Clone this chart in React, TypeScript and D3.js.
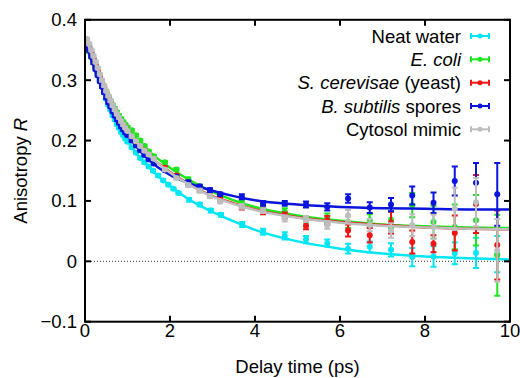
import React from "react";
import * as d3 from "d3";

// ---------- data ----------
const T_CYAN = [0.1,0.15,0.2,0.25,0.3,0.35,0.4,0.45,0.5,0.55,0.6,0.65,0.7,0.75,0.8,0.85,0.9,0.95,1.0,1.1,1.2,1.3,1.4,1.5,1.6,1.72,1.84,1.96,2.08,2.2,2.45,2.7,2.96,3.2,3.7,4.19,4.7,5.2,5.7,6.19,6.7,7.2,7.7,8.2,8.7,9.2,9.7];
const T_STD = [0.05,0.1,0.15,0.2,0.25,0.3,0.35,0.4,0.45,0.5,0.55,0.6,0.65,0.7,0.75,0.8,0.85,0.9,0.95,1.0,1.1,1.2,1.3,1.4,1.5,1.62,1.88,2.15,2.43,2.7,2.94,3.18,3.69,4.19,4.7,5.2,5.7,6.19,6.7,7.2,7.7,8.2,8.7,9.2,9.7];

const waterR = [0.356,0.345,0.334,0.322,0.311,0.300,0.289,0.279,0.269,0.259,0.251,0.242,0.235,0.227,0.221,0.214,0.209,0.203,0.198,0.189,0.180,0.171,0.164,0.157,0.150,0.142,0.134,0.127,0.120,0.113,0.102,0.094,0.084,0.077,0.061,0.049,0.042,0.036,0.030,0.021,0.024,0.019,0.007,0.008,0.013,0.014,0.012];
const waterErr = [0.002,0.002,0.002,0.002,0.002,0.002,0.002,0.002,0.002,0.002,0.002,0.002,0.002,0.002,0.002,0.002,0.002,0.002,0.002,0.002,0.002,0.002,0.002,0.002,0.002,0.002,0.002,0.002,0.002,0.002,0.003,0.003,0.003,0.003,0.004,0.005,0.006,0.006,0.006,0.008,0.009,0.011,0.015,0.017,0.018,0.025,0.030];

const ecoliR = [0.355,0.347,0.338,0.329,0.320,0.311,0.303,0.295,0.287,0.280,0.273,0.266,0.259,0.253,0.247,0.241,0.236,0.231,0.226,0.222,0.217,0.209,0.200,0.191,0.182,0.174,0.164,0.152,0.136,0.124,0.117,0.110,0.097,0.089,0.082,0.065,0.071,0.065,0.068,0.069,0.093,0.065,0.057,0.068,0.010];
const ecoliErr = [0.002,0.002,0.002,0.002,0.002,0.002,0.002,0.002,0.002,0.002,0.002,0.002,0.002,0.002,0.002,0.002,0.002,0.002,0.002,0.002,0.002,0.002,0.002,0.002,0.002,0.002,0.002,0.002,0.003,0.003,0.003,0.003,0.004,0.005,0.006,0.007,0.008,0.010,0.010,0.014,0.020,0.027,0.037,0.042,0.067];

const yeastR = [0.358,0.352,0.343,0.334,0.324,0.314,0.305,0.296,0.287,0.278,0.270,0.262,0.255,0.248,0.242,0.236,0.230,0.225,0.220,0.215,0.206,0.198,0.190,0.183,0.176,0.169,0.155,0.142,0.130,0.118,0.109,0.102,0.090,0.083,0.076,0.059,0.068,0.051,0.043,0.064,0.032,0.029,0.047,0.095,0.027];
const yeastErr = [0.002,0.002,0.002,0.002,0.002,0.002,0.002,0.002,0.002,0.002,0.002,0.002,0.002,0.002,0.002,0.002,0.002,0.002,0.002,0.002,0.002,0.002,0.002,0.002,0.002,0.002,0.002,0.002,0.003,0.003,0.003,0.003,0.004,0.005,0.005,0.006,0.007,0.010,0.012,0.018,0.019,0.014,0.029,0.048,0.057];

const sporesR = [0.356,0.349,0.339,0.329,0.318,0.308,0.298,0.289,0.280,0.271,0.263,0.256,0.248,0.241,0.235,0.229,0.223,0.218,0.213,0.209,0.200,0.192,0.184,0.176,0.169,0.162,0.151,0.140,0.131,0.124,0.118,0.111,0.107,0.096,0.096,0.094,0.090,0.104,0.089,0.094,0.109,0.097,0.133,0.130,0.111];
const sporesErr = [0.002,0.002,0.002,0.002,0.002,0.002,0.002,0.002,0.002,0.002,0.002,0.002,0.002,0.002,0.002,0.002,0.002,0.002,0.002,0.002,0.002,0.002,0.002,0.002,0.002,0.002,0.002,0.002,0.003,0.003,0.003,0.003,0.004,0.004,0.004,0.005,0.006,0.007,0.009,0.011,0.015,0.017,0.024,0.033,0.052];

const mimicR = [0.368,0.360,0.350,0.340,0.330,0.320,0.310,0.300,0.291,0.282,0.274,0.266,0.258,0.251,0.244,0.238,0.232,0.226,0.221,0.216,0.207,0.199,0.191,0.183,0.177,0.170,0.152,0.138,0.126,0.117,0.108,0.099,0.091,0.084,0.071,0.070,0.060,0.076,0.060,0.051,0.060,0.057,0.087,0.098,0.018];
const mimicErr = [0.002,0.002,0.002,0.002,0.002,0.002,0.002,0.002,0.002,0.002,0.002,0.002,0.002,0.002,0.002,0.002,0.002,0.002,0.002,0.002,0.002,0.002,0.002,0.002,0.002,0.002,0.002,0.002,0.003,0.003,0.003,0.003,0.004,0.004,0.005,0.005,0.006,0.009,0.010,0.012,0.018,0.020,0.035,0.040,0.052];

// fit curves
const FIT_T = [0.05,0.25,0.5,0.75,1,1.5,2,2.5,3,3.5,4,5,6,7,8,9,10];
const waterFit = [0.358,0.318,0.270,0.229,0.199,0.156,0.125,0.100,0.082,0.066,0.052,0.033,0.021,0.013,0.008,0.005,0.003];
const ecoliFit = [0.356,0.318,0.281,0.249,0.223,0.183,0.155,0.133,0.115,0.101,0.090,0.076,0.067,0.061,0.058,0.056,0.055];
const yeastFit = [0.360,0.322,0.280,0.243,0.216,0.176,0.148,0.126,0.108,0.096,0.086,0.073,0.065,0.060,0.056,0.054,0.053];
const sporesFit = [0.357,0.314,0.272,0.238,0.210,0.168,0.143,0.128,0.117,0.108,0.101,0.094,0.090,0.088,0.087,0.086,0.086];
const mimicFit = [0.364,0.326,0.283,0.245,0.217,0.176,0.147,0.125,0.107,0.095,0.085,0.072,0.064,0.059,0.056,0.054,0.053];

const X_TICKS = [0, 2, 4, 6, 8, 10];
const Y_TICKS = [-0.1, 0, 0.1, 0.2, 0.3, 0.4];
const Y_TICK_LABELS = ["\u22120.1", "0", "0.1", "0.2", "0.3", "0.4"];

const SERIES = [
  { key: "water", t: T_CYAN, r: waterR, e: waterErr, fit: waterFit, color: "#00e6f5" },
  { key: "ecoli", t: T_STD, r: ecoliR, e: ecoliErr, fit: ecoliFit, color: "#1ee61e" },
  { key: "yeast", t: T_STD, r: yeastR, e: yeastErr, fit: yeastFit, color: "#f01414" },
  { key: "spores", t: T_STD, r: sporesR, e: sporesErr, fit: sporesFit, color: "#0a14dc" },
  { key: "mimic", t: T_STD, r: mimicR, e: mimicErr, fit: mimicFit, color: "#bebebe" },
];

const W = 520, H = 378;
const M = { left: 85, right: 510, top: 19.8, bottom: 321.7 };
const FONT = "'Liberation Sans', Arial, Helvetica, sans-serif";
const FS = 18.5;

export default function App() {
  const x = d3.scaleLinear().domain([0, 10]).range([M.left, M.right]);
  const y = d3.scaleLinear().domain([-0.1, 0.4]).range([M.bottom, M.top]);
  const line = d3.line<[number, number]>().x(d => x(d[0])).y(d => y(d[1])).curve(d3.curveMonotoneX);
  const cap = 3;

  const legendRows = [
    [{ t: "Neat water", i: false }],
    [{ t: "E. coli", i: true }],
    [{ t: "S. cerevisae", i: true }, { t: " (yeast)", i: false }],
    [{ t: "B. subtilis", i: true }, { t: " spores", i: false }],
    [{ t: "Cytosol mimic", i: false }],
  ];
  const legendY = [36, 59.3, 82.7, 106, 129.3];

  return (
    <svg width={W} height={H} style={{ position: "absolute", left: 0, top: 0, background: "#fff" }} fontFamily={FONT}>
      <defs>
        <clipPath id="plotclip">
          <rect x={M.left} y={M.top} width={M.right - M.left} height={M.bottom - M.top} />
        </clipPath>
      </defs>
      {/* zero line */}
      <line x1={M.left} x2={M.right} y1={y(0)} y2={y(0)} stroke="#000" strokeWidth={0.8} strokeDasharray="1,2" />
      <g clipPath="url(#plotclip)">
        {SERIES.map(s => (
          <g key={s.key}>
            {s.t.map((tv, i) => {
              const cx = x(tv);
              const y1 = y(s.r[i] + s.e[i]);
              const y2 = y(s.r[i] - s.e[i]);
              return (
                <g key={i} stroke={s.color} strokeWidth={2}>
                  <line x1={cx} x2={cx} y1={y1} y2={y2} />
                  <line x1={cx - cap} x2={cx + cap} y1={y1} y2={y1} />
                  <line x1={cx - cap} x2={cx + cap} y1={y2} y2={y2} />
                </g>
              );
            })}
            <path d={line(FIT_T.map((tv, i) => [tv, s.fit[i]] as [number, number])) || ""} fill="none" stroke={s.color} strokeWidth={2.5} />
            {s.t.map((tv, i) => (
              <circle key={i} cx={x(tv)} cy={y(s.r[i])} r={3} fill={s.color} />
            ))}
          </g>
        ))}
      </g>
      {/* frame */}
      <rect x={M.left} y={M.top} width={M.right - M.left} height={M.bottom - M.top} fill="none" stroke="#000" strokeWidth={2} />
      {X_TICKS.map(t => (
        <g key={t}>
          <line x1={x(t)} x2={x(t)} y1={M.bottom} y2={M.bottom - 6} stroke="#000" strokeWidth={2} />
          <line x1={x(t)} x2={x(t)} y1={M.top} y2={M.top + 6} stroke="#000" strokeWidth={2} />
          <text x={x(t)} y={337} textAnchor="middle" fontSize={FS} fill="#000">{t}</text>
        </g>
      ))}
      {Y_TICKS.map((t, i) => (
        <g key={t}>
          <line x1={M.left} x2={M.left + 6} y1={y(t)} y2={y(t)} stroke="#000" strokeWidth={2} />
          <line x1={M.right} x2={M.right - 6} y1={y(t)} y2={y(t)} stroke="#000" strokeWidth={2} />
          <text x={77} y={y(t) + 6.5} textAnchor="end" fontSize={FS} fill="#000">{Y_TICK_LABELS[i]}</text>
        </g>
      ))}
      <text x={297.5} y={373} textAnchor="middle" fontSize={FS} fill="#000">Delay time (ps)</text>
      <text transform={`translate(26.5,${(M.top + M.bottom) / 2}) rotate(-90)`} textAnchor="middle" fontSize={FS} fill="#000">
        Anisotropy <tspan fontStyle="italic">R</tspan>
      </text>
      {/* legend */}
      {legendRows.map((row, k) => {
        const ly = legendY[k];
        const c = SERIES[k].color;
        return (
          <g key={k}>
            <text x={461} y={ly + 6.5} textAnchor="end" fontSize={FS} fill="#000">
              {row.map((p, j) => (
                <tspan key={j} fontStyle={p.i ? "italic" : "normal"}>{p.t}</tspan>
              ))}
            </text>
            <g stroke={c} strokeWidth={2}>
              <line x1={471} x2={489} y1={ly} y2={ly} />
              <line x1={471} x2={471} y1={ly - 3} y2={ly + 3} />
              <line x1={489} x2={489} y1={ly - 3} y2={ly + 3} />
            </g>
            <circle cx={480} cy={ly} r={2.5} fill={c} />
          </g>
        );
      })}
    </svg>
  );
}
